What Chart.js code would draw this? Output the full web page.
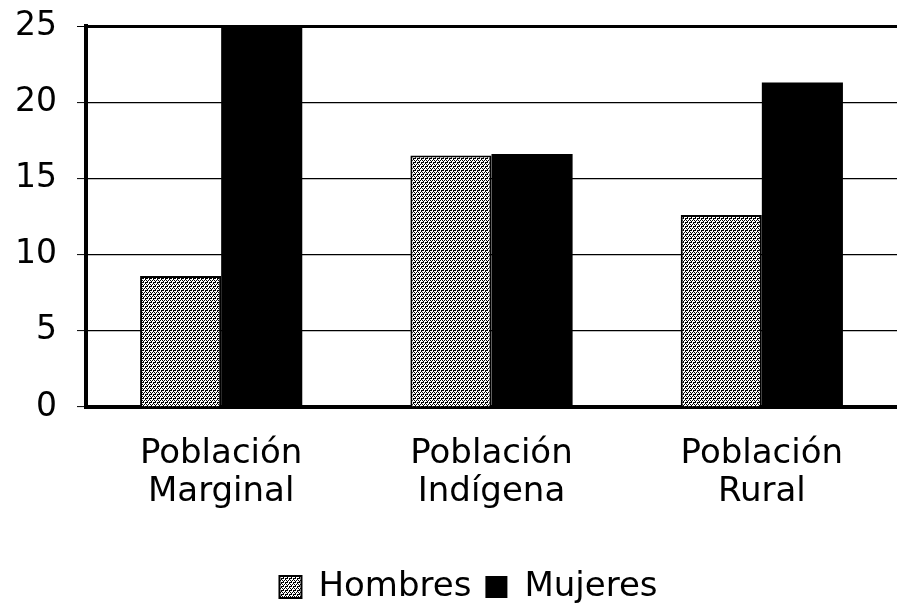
<!DOCTYPE html>
<html>
<head>
<meta charset="utf-8">
<script src="https://cdn.jsdelivr.net/npm/chart.js@4.4.0/dist/chart.umd.min.js"></script>
<style>
  html, body { margin: 0; padding: 0; background: #fff; }
  #wrap { width: 897px; height: 611px; }
</style>
</head>
<body>
<div id="wrap"><canvas id="myChart"></canvas></div>
<script>
let categories = [['Población', 'Marginal'], ['Población', 'Indígena'], ['Población', 'Rural']];
let seriesNames = ['Hombres', 'Mujeres'];
let hombres = [8.6, 16.5, 12.6];
let mujeres = [25, 16.6, 21.3];
let yTicks = [0, 5, 10, 15, 20, 25];

// dithered grey fill like the scanned bars
makePattern = () => {
    let tile = document.createElement('canvas');
    tile.width = 4;
    tile.height = 4;
    let t = tile.getContext('2d');
    t.fillStyle = '#fff';
    t.fillRect(0, 0, 4, 4);
    t.fillStyle = '#000';
    let dots = [[0, 0], [2, 0], [1, 2], [3, 2], [3, 1], [1, 3], [2, 2]];
    dots.forEach(d => t.fillRect(d[0], d[1], 1, 1));
    return t.createPattern(tile, 'repeat');
}

let hatch = makePattern();
let font = "'DejaVu Sans', 'Liberation Sans', Arial, sans-serif";

// nudge the legend a bit right and down, as in the scan
let legendShift = {
    id: 'legendShift',
    afterLayout: (chart) => {
        chart.legend.left += 20;
        chart.legend.right += 20;
        chart.legend.top += 3;
        chart.legend.bottom += 3;
    }
};

let ctx = document.getElementById('myChart').getContext('2d');
let myChart = new Chart(ctx, {
    type: 'bar',
    data: {
        labels: categories,
        datasets: [{
            label: seriesNames[0],
            data: hombres,
            backgroundColor: hatch,
            borderColor: '#000',
            borderWidth: 2,
            categoryPercentage: 0.6,
            barPercentage: 1.0
        }, {
            label: seriesNames[1],
            data: mujeres,
            backgroundColor: '#000',
            borderColor: '#000',
            borderWidth: 0,
            categoryPercentage: 0.6,
            barPercentage: 1.0
        }]
    },
    options: {
        responsive: true,
        maintainAspectRatio: false,
        animation: false,
        layout: { padding: { top: 26, right: 0, bottom: 0, left: 0 } },
        plugins: {
            legend: {
                position: 'bottom',
                labels: {
                    color: '#000',
                    font: { family: font, size: 34 },
                    boxWidth: 22,
                    boxHeight: 22,
                    padding: 14
                }
            },
            tooltip: { enabled: false }
        },
        scales: {
            x: {
                grid: { display: false, drawTicks: false },
                border: { color: '#000', width: 4 },
                ticks: {
                    color: '#000',
                    padding: 28,
                    maxRotation: 0,
                    font: { family: font, size: 34, lineHeight: 1.12 }
                },
                afterFit: (scale) => { scale.height = 146; }
            },
            y: {
                min: 0,
                max: 25,
                afterBuildTicks: (scale) => { scale.ticks = yTicks.map(v => ({ value: v })); },
                grid: {
                    color: '#000',
                    lineWidth: (c) => c.tick && c.tick.value === 25 ? 3 : 1.2,
                    tickLength: 9,
                    tickColor: '#000',
                    tickWidth: 1
                },
                border: { color: '#000', width: 4 },
                ticks: {
                    color: '#000',
                    padding: 20,
                    font: { family: font, size: 33 }
                },
                afterFit: (scale) => {
                    scale.width = 86;
                    scale.paddingTop = 0;
                    scale.paddingBottom = 0;
                }
            }
        }
    },
    plugins: [legendShift]
});
</script>
</body>
</html>
